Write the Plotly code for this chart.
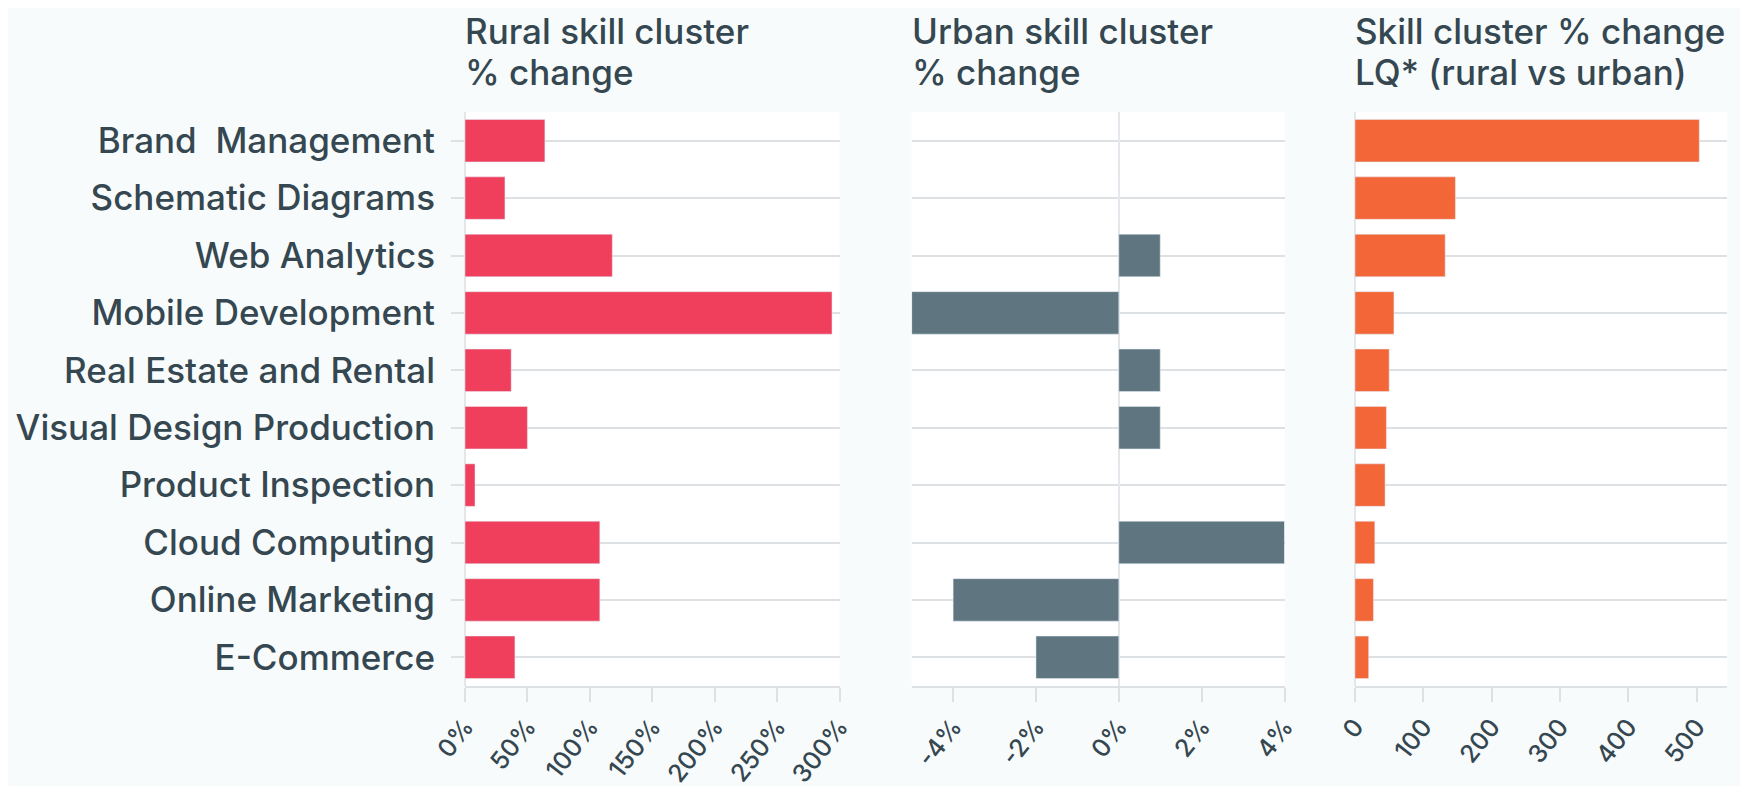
import plotly.graph_objects as go

# skill clusters, top to bottom
skills = ['Brand  Management', 'Schematic Diagrams', 'Web Analytics', 'Mobile Development',
          'Real Estate and Rental', 'Visual Design Production', 'Product Inspection',
          'Cloud Computing', 'Online Marketing', 'E-Commerce']

rural_change = [64, 32, 118, 294, 37, 50, 8, 108, 108, 40]      # %
urban_change = [0, 0, 1, -5, 1, 1, 0, 4, -4, -2]                # %
lq_change = [504, 147, 132, 57, 50, 46, 44, 29, 27, 20]         # LQ % change

rural_ticks = [0, 50, 100, 150, 200, 250, 300]
urban_ticks = [-4, -2, 0, 2, 4]
lq_ticks = [0, 100, 200, 300, 400, 500]

titles = [('Rural skill cluster', '% change'),
          ('Urban skill cluster', '% change'),
          ('Skill cluster % change', 'LQ* (rural vs urban)')]

TEXT = '#354750'
GRID = '#DDE1E4'
FONT = 'Inter'

W, H = 1748, 786
OFF = 8   # page body margin shifts the figure by this much
M_T, M_B = 112 - OFF, 786 - (686 - OFF)
PH = H - M_T - M_B


def xdom(a, b):
    return [(a - OFF) / W, (b - OFF) / W]


domains = [xdom(465, 839.5), xdom(911.7, 1284.5), xdom(1355, 1727.3)]

fig = go.Figure()
fig.add_trace(go.Bar(y=skills, x=rural_change, orientation='h', marker_color='#EF3F5C',
                     xaxis='x', yaxis='y'))
fig.add_trace(go.Bar(y=skills, x=urban_change, orientation='h', marker_color='#5F7681',
                     xaxis='x2', yaxis='y2'))
fig.add_trace(go.Bar(y=skills, x=lq_change, orientation='h', marker_color='#F26638',
                     xaxis='x3', yaxis='y3'))

tickfont = dict(family=FONT, size=25, color=TEXT, weight=500)
xcommon = dict(showgrid=False, showline=True, linecolor=GRID, linewidth=2,
               ticks='outside', ticklen=14, tickwidth=2, tickcolor=GRID,
               tickangle=-52, tickfont=tickfont, zeroline=True, zerolinecolor='#E4E7E9',
               zerolinewidth=1.5, automargin=False, fixedrange=True)
ycommon = dict(categoryorder='array', categoryarray=skills[::-1], showgrid=True,
               gridcolor=GRID, gridwidth=2, showline=False, zeroline=False,
               automargin=False)

fig.update_layout(
    xaxis=dict(domain=domains[0], range=[0, 300], tickvals=rural_ticks,
               ticktext=[f'{v}%' for v in rural_ticks], anchor='y', **xcommon),
    xaxis2=dict(domain=domains[1], range=[-5, 4], tickvals=urban_ticks,
                ticktext=[f'{v}%' for v in urban_ticks], anchor='y2', **xcommon),
    xaxis3=dict(domain=domains[2], range=[0, 545], tickvals=lq_ticks,
                ticktext=[str(v) for v in lq_ticks], anchor='y3', **xcommon),
    yaxis=dict(anchor='x', ticks='outside', ticklen=13, tickwidth=2, tickcolor=GRID,
               ticklabelstandoff=9,
               tickfont=dict(family=FONT, size=35, color=TEXT, weight=500), **ycommon),
    yaxis2=dict(anchor='x2', showticklabels=False, ticks='', **ycommon),
    yaxis3=dict(anchor='x3', showticklabels=False, ticks='', **ycommon),
    bargap=0.26,
    showlegend=False,
    width=W, height=H,
    margin=dict(l=0, r=0, t=M_T, b=M_B),
    paper_bgcolor='#F8FBFC',
    plot_bgcolor='#FFFFFF',
    font=dict(family=FONT, color=TEXT),
)

# two-line panel titles (line centres in screen px from the top)
for dom, (l1, l2) in zip(domains, titles):
    for txt, py in ((l1, 31 - OFF), (l2, 72 - OFF)):
        fig.add_annotation(text=txt, xref='paper', yref='paper', x=dom[0] - 2 / W,
                           y=(H - M_B - py) / PH, xanchor='left', yanchor='middle',
                           showarrow=False,
                           font=dict(family=FONT, size=35, color=TEXT, weight=500))

fig.write_html('out.html')
